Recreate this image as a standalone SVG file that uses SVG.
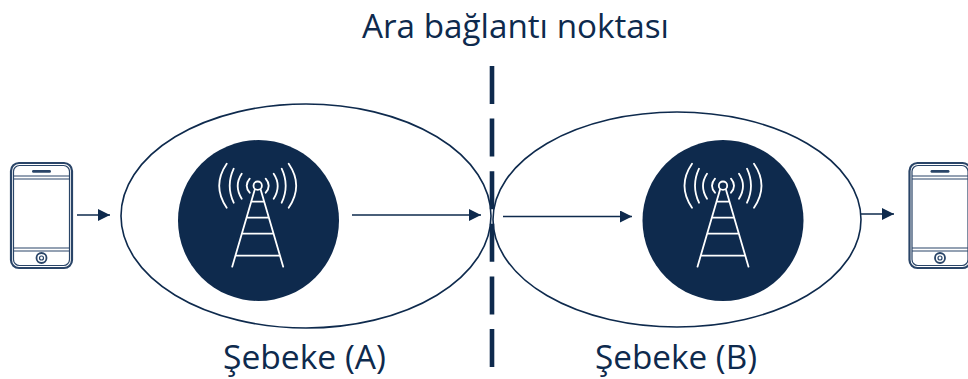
<svg xmlns="http://www.w3.org/2000/svg" xmlns:xlink="http://www.w3.org/1999/xlink" width="968" height="379" viewBox="0 0 968 379">
<style>
text{font-family:"Open Sans","Noto Sans","Liberation Sans",sans-serif;font-size:32px;fill:#0e2a4d}
.ell{fill:#fff;stroke:#0e2a4d;stroke-width:1.6}
.disc{fill:#0e2a4d}
.tw{fill:none;stroke:#fff;stroke-width:1.8;stroke-linecap:round}
.ph{fill:none;stroke:#2a4568;stroke-width:1.200}
.ph2{fill:#fff;stroke:#2a4568;stroke-width:2.200}
.btn{fill:none;stroke:#2a4568;stroke-width:1.800}
.c{fill:none;stroke:#0e2a4d;stroke-width:1.5}
.dash{stroke:#0e2a4d;stroke-width:4.6;stroke-dasharray:38 14.6}
</style>
<defs>
<marker id="ah" markerUnits="userSpaceOnUse" markerWidth="12" markerHeight="12" refX="12" refY="6" orient="auto"><path d="M0 0L12 6L0 12Z" fill="#0e2a4d"/></marker>
<g id="tower">
<circle cx="0" cy="0" r="4.200" class="tw"/>
<path class="tw" d="M-3 4L-25.500 81M3 4L25.500 81M-5 16H5M-9.800 32H9.800M-15 48H15M-22 70H22"/>
<path class="tw" d="M-8-7Q-14 0-8 7M8-7Q14 0 8 7M-16-12Q-24 0-16 13M16-12Q24 0 16 13M-24-17Q-32 0-24 17M24-17Q32 0 24 17M-31-22Q-46 0-31 22M31-22Q46 0 31 22"/>
</g>
<g id="phone">
<rect x="0" y="0" width="61" height="105" rx="8" class="ph2"/>
<rect x="2.500" y="2.500" width="56" height="100" rx="6" class="ph"/>
<path class="ph" d="M2.500 13H58.500M2.500 16H58.500M2.500 85H58.500M2.500 88H58.500"/>
<rect x="21" y="7" width="19" height="2.800" rx="1.400" fill="#2a4568"/>
<circle cx="30.500" cy="95" r="5" class="btn"/>
<circle cx="30.500" cy="95" r="2" class="ph"/>
</g>
</defs>
<text x="362" y="38" textLength="307" lengthAdjust="spacingAndGlyphs">Ara bağlantı noktası</text>
<g id="network-a"><ellipse class="ell" cx="306" cy="216" rx="185" ry="112"/><text x="223" y="369" textLength="163" lengthAdjust="spacingAndGlyphs">Şebeke (A)</text></g>
<g id="network-b"><ellipse class="ell" cx="677" cy="219.500" rx="184" ry="107.500"/><text x="595" y="369" textLength="162" lengthAdjust="spacingAndGlyphs">Şebeke (B)</text></g>
<g id="divider"><line class="dash" x1="492" y1="66" x2="492" y2="367"/></g>
<g id="tower-a"><circle class="disc" cx="258.500" cy="220.500" r="80.500"/><use xlink:href="#tower" href="#tower" x="257.700" y="185.700"/></g>
<g id="tower-b"><circle class="disc" cx="723" cy="220.500" r="80.500"/><use xlink:href="#tower" href="#tower" x="723" y="185.700"/></g>
<g id="phone-left"><use xlink:href="#phone" href="#phone" x="11" y="163"/></g>
<g id="phone-right"><use xlink:href="#phone" href="#phone" x="909.500" y="163"/></g>
<g id="connectors">
<line class="c" x1="77" y1="215" x2="110" y2="215" marker-end="url(#ah)"/>
<line class="c" x1="352" y1="215" x2="481" y2="215" marker-end="url(#ah)"/>
<line class="c" x1="503" y1="216.500" x2="632" y2="216.500" marker-end="url(#ah)"/>
<line class="c" x1="861" y1="214" x2="894" y2="214" marker-end="url(#ah)"/>
</g>
</svg>
